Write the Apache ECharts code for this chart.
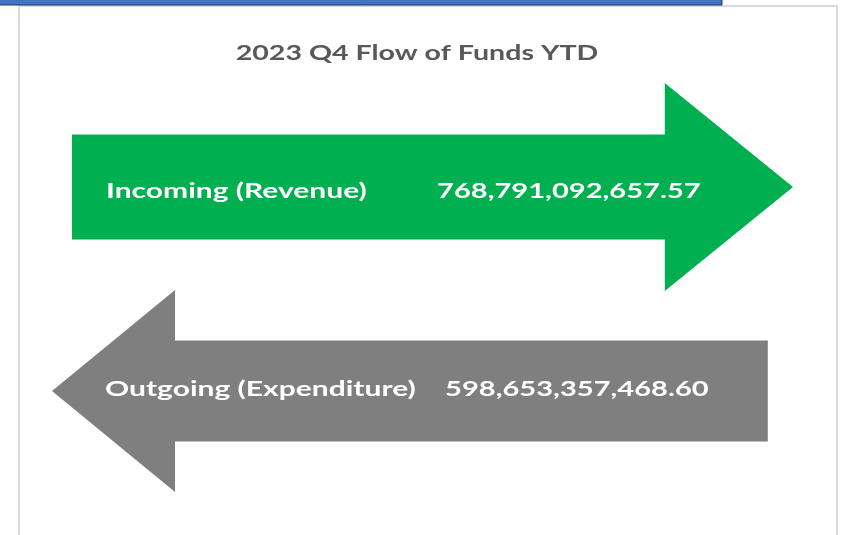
<!DOCTYPE html>
<html><head><meta charset="utf-8">
<script src="https://cdn.jsdelivr.net/npm/echarts@6/dist/echarts.min.js"></script>
<style>html,body{margin:0;padding:0;background:#fff}#c{width:843px;height:535px}</style>
</head><body><div id="c"></div>
<script>
const titleText = '2023 Q4 Flow of Funds YTD';
const categories = ['Incoming (Revenue)', 'Outgoing (Expenditure)'];
const amounts = [768791092657.57, 598653357468.60];
const directions = ['right', 'left'];
const colors = ['#00B050', '#7F7F7F'];

function fmt(v) {
  return v.toLocaleString('en-US', {minimumFractionDigits: 2, maximumFractionDigits: 2});
}

// arrow geometry in x-axis units (0..100 across the grid)
const shapes = {
  right: {tail: 2.7, neck: 82.7, tip: 100, label: 7.29, value: 51.96, dy: -5.5, head: 1.02, body: 0.515},
  left:  {tail: 96.6, neck: 16.6, tip: 0, label: 7.15, value: 53.04, dy: -11.5, head: 0.99, body: 0.495}
};
const LSX = 1.5;
const VSX = 1.455;
const TSX = 1.36;

const chart = echarts.init(document.getElementById('c'), null, {renderer: 'canvas'});
chart.setOption({
  animation: false,
  backgroundColor: '#ffffff',
  graphic: [
    {type: 'rect', z: -10, shape: {x: 19, y: 6, width: 818, height: 545},
     style: {fill: '#ffffff', stroke: '#d9d9d9', lineWidth: 2}},
    {type: 'rect', z: -5, shape: {x: -2, y: -2, width: 724, height: 7},
     style: {fill: '#4472C4', stroke: '#1F3864', lineWidth: 1}},
    {type: 'text', x: 417, y: 42.5, scaleX: TSX, z: 10,
     style: {text: titleText, fill: '#595959', font: 'bold 21px Lato', align: 'center'}}
  ],
  grid: {left: 52, width: 741, top: 85, height: 408},
  xAxis: {type: 'value', min: 0, max: 100, show: false},
  yAxis: {type: 'category', data: categories, inverse: true, show: false},
  series: [{
    type: 'custom',
    data: amounts.map((v, i) => ({value: [v, i], itemStyle: {color: colors[i]}})),
    renderItem: function (params, api) {
      const i = params.dataIndex;
      const s = shapes[directions[i]];
      const catIdx = api.value(1);
      const cy = api.coord([0, catIdx])[1];
      const band = api.size([0, 1])[1];
      const headH = band * s.head, bodyH = band * s.body;
      const X = v => api.coord([v, catIdx])[0];
      const tail = X(s.tail), neck = X(s.neck), tip = X(s.tip);
      const pts = [[tail, cy - bodyH / 2], [neck, cy - bodyH / 2], [neck, cy - headH / 2], [tip, cy],
                   [neck, cy + headH / 2], [neck, cy + bodyH / 2], [tail, cy + bodyH / 2]];
      return {type: 'group', children: [
        {type: 'polygon', shape: {points: pts}, style: {fill: api.visual('color')}},
        {type: 'text', x: X(s.label), y: cy + s.dy, scaleX: LSX,
         style: {text: categories[i], fill: '#ffffff', font: 'bold 20px Lato', align: 'left'}},
        {type: 'text', x: X(s.value), y: cy + s.dy, scaleX: VSX,
         style: {text: fmt(api.value(0)), fill: '#ffffff', font: 'bold 20px Lato', align: 'left'}}
      ]};
    }
  }]
});
</script>
</body></html>
